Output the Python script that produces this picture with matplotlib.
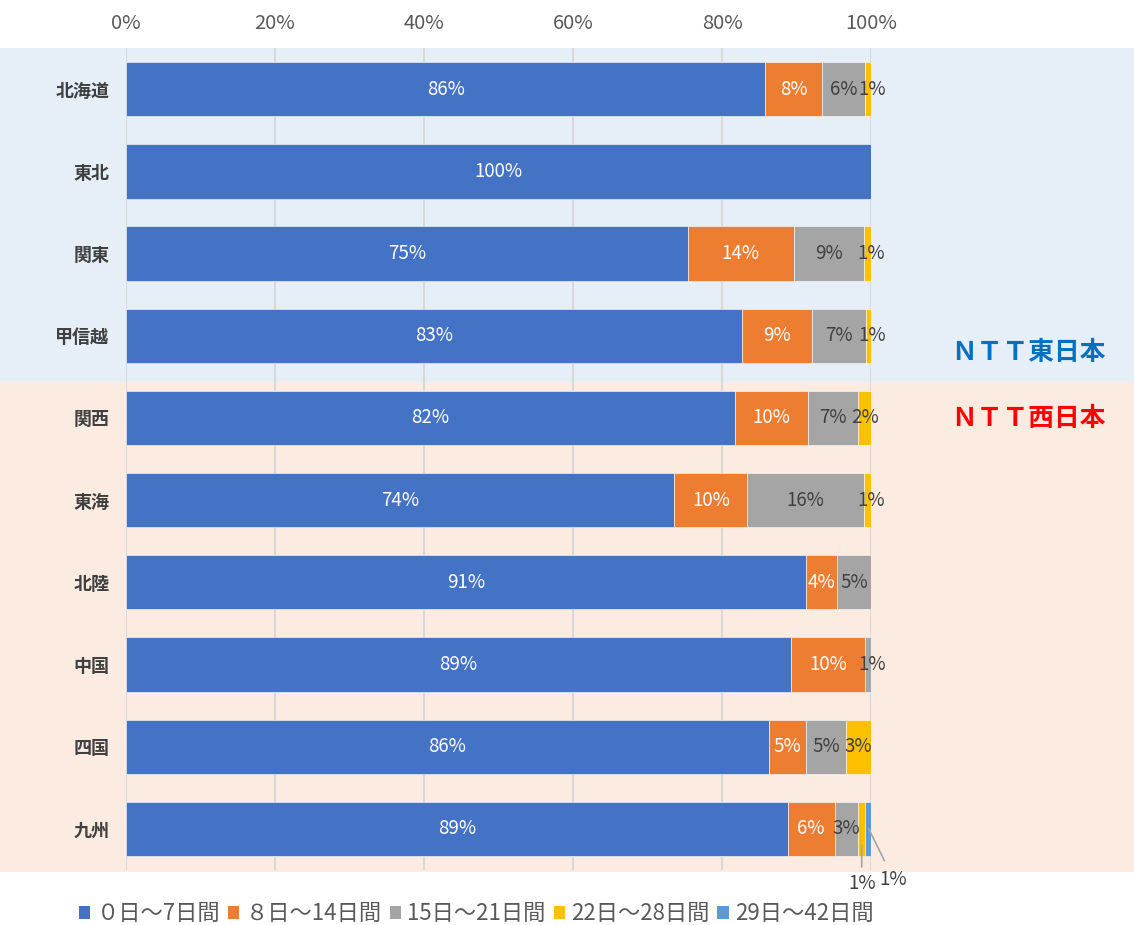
import matplotlib
matplotlib.use("Agg")
import numpy as np
import matplotlib.pyplot as plt
from matplotlib.patches import Rectangle, Patch

plt.rcParams['font.family'] = ['Noto Sans CJK JP', 'DejaVu Sans']
NUM_FONT = ['Liberation Sans Narrow', 'Noto Sans CJK JP', 'DejaVu Sans']

regions = ['北海道', '東北', '関東', '甲信越', '関西', '東海', '北陸', '中国', '四国', '九州']
series_names = ['０日～7日間', '８日～14日間', '15日～21日間', '22日～28日間', '29日～42日間']
colors = ['#4472C4', '#ED7D31', '#A5A5A5', '#FFC000', '#5B9BD5']
text_colors = ['white', 'white', '#404040', '#404040', '#404040']

d0_7   = [85.8, 100.0, 75.4, 82.7, 81.7, 73.6, 91.3, 89.3, 86.3, 88.8]
d8_14  = [7.6,  0.0,   14.2, 9.4,  9.8,  9.8,  4.2,  9.9,  5.0,  6.3]
d15_21 = [5.8,  0.0,   9.4,  7.2,  6.8,  15.6, 4.6,  0.8,  5.4,  3.2]
d22_28 = [0.8,  0.0,   1.0,  0.7,  1.7,  1.0,  0.0,  0.0,  3.3,  0.9]
d29_42 = [0.0,  0.0,   0.0,  0.0,  0.0,  0.0,  0.0,  0.0,  0.0,  0.8]
series = [d0_7, d8_14, d15_21, d22_28, d29_42]

fig = plt.figure(figsize=(11.34, 9.25), dpi=100)

# background bands (east / west)
fig.patches.append(Rectangle((0, 0.587), 1, 0.948 - 0.587, transform=fig.transFigure,
                             facecolor='#E6EEF8', edgecolor='none', zorder=-10))
fig.patches.append(Rectangle((0, 0.057), 1, 0.587 - 0.057, transform=fig.transFigure,
                             facecolor='#FCEBE1', edgecolor='none', zorder=-10))

ax = fig.add_axes([0.1111, 0.0595, 0.7681 - 0.1111, 0.948 - 0.0595])
ax.set_facecolor('none')

y = np.arange(len(regions))
left = np.zeros(len(regions))
for k, vals in enumerate(series):
    vals = np.array(vals)
    ax.barh(y, vals, left=left, height=0.66, color=colors[k], zorder=3,
            edgecolor='white', linewidth=0.4)
    for i, v in enumerate(vals):
        if v <= 0:
            continue
        if i == 9 and k >= 3:
            continue  # callouts below
        # tiny end segments: push label a little to the right so it doesn't collide
        dx = 3 if v < 1.2 else 0
        ax.annotate(f'{round(v):.0f}%', xy=(left[i] + v / 2, i), xytext=(dx, 0),
                    textcoords='offset points', ha='center', va='center',
                    color=text_colors[k], fontsize=13.5, family=NUM_FONT, zorder=4,
                    annotation_clip=False)
    left += vals

# callouts for 九州 small segments
ax.annotate('1%', xy=(98.75, 9.2), xytext=(98.75, 9.66), textcoords='data',
            ha='center', va='center', fontsize=13.5, family=NUM_FONT, color='#404040',
            annotation_clip=False,
            arrowprops=dict(arrowstyle='-', color='#A5A5A5', lw=1.2, shrinkA=2, shrinkB=0))
ax.annotate('1%', xy=(99.7, 9.0), xytext=(103.0, 9.61), textcoords='data',
            ha='center', va='center', fontsize=13.5, family=NUM_FONT, color='#404040',
            annotation_clip=False,
            arrowprops=dict(arrowstyle='-', color='#A5A5A5', lw=1.2, shrinkA=4, shrinkB=0))

ax.set_xlim(0, 100)
ax.set_ylim(9.5, -0.5)
ax.set_yticks(y)
ax.set_yticklabels(regions, fontsize=13, fontweight='bold', color='#404040')
ax.set_xticks(np.arange(0, 101, 20))
ax.set_xticklabels([f'{t}%' for t in range(0, 101, 20)], fontsize=14.5, family=NUM_FONT,
                   color='#595959')
ax.xaxis.tick_top()
ax.tick_params(axis='both', length=0)
ax.tick_params(axis='x', pad=10)
ax.tick_params(axis='y', pad=12)
ax.grid(axis='x', color='#D9D9D9', lw=1.5, zorder=0)
for s in ax.spines.values():
    s.set_visible(False)

fig.text(0.9065, 0.619, 'ＮＴＴ東日本', color='#0070C0', fontsize=18.5, fontweight='bold',
         ha='center', va='center')
fig.text(0.9065, 0.548, 'ＮＴＴ西日本', color='#FF0000', fontsize=18.5, fontweight='bold',
         ha='center', va='center')

handles = [Patch(facecolor=c, edgecolor='none') for c in colors]
fig.legend(handles, series_names, loc='center', bbox_to_anchor=(0.42, 0.012), ncol=5,
           frameon=False, fontsize=16, labelcolor='#595959', handlelength=0.5,
           handleheight=0.5, handletextpad=0.3, columnspacing=0.35)

fig.savefig('out.png', dpi=100)
